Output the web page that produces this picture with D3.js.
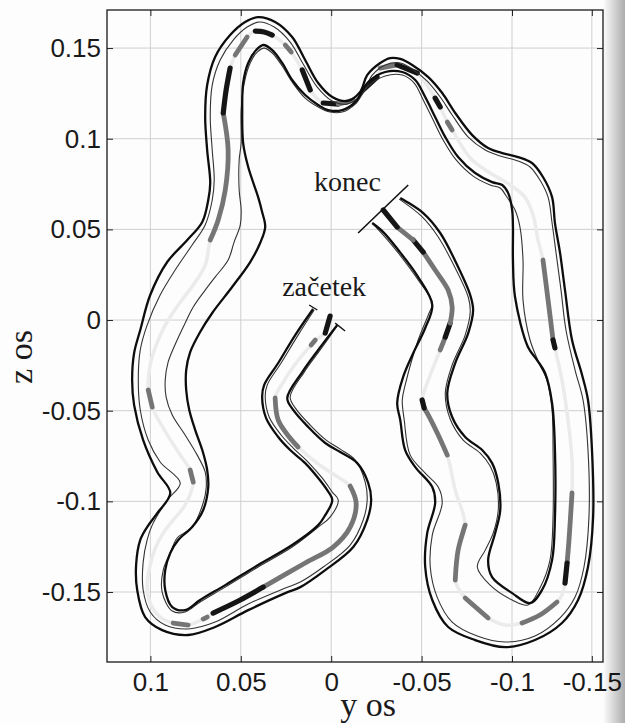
<!DOCTYPE html>
<html lang="cs">
<head>
<meta charset="UTF-8">
<title>Trubice trajektorie</title>
<script src="https://d3js.org/d3.v7.min.js"></script>
<style>
  body { margin: 0; background: #fff; }
  svg { display: block; }
  .tick text { font-family: "Liberation Sans", Arial, sans-serif; font-size: 26px; fill: #1a1a1a; }
  .serif { font-family: "Liberation Serif", "Times New Roman", serif; fill: #1a1a1a; }
</style>
</head>
<body>
<svg width="625" height="723"></svg>
<script>
// osy
const yTicks = [0.1, 0.05, 0, -0.05, -0.1, -0.15];
const zTicks = [0.15, 0.1, 0.05, 0, -0.05, -0.1, -0.15];

// stred trubice [y, z] a odstin usecky (0 svetla, 1 seda, 2 cerna)
const centerPath = [
  [0.0006,0.0022],[0.0033,-0.0072],[0.0088,-0.0110],[0.0111,-0.0138],[0.0194,-0.0237],[0.0265,-0.0342],
  [0.0310,-0.0430],[0.0293,-0.0552],[0.0232,-0.0645],[0.0183,-0.0700],[0.0072,-0.0794],[-0.0028,-0.0860],
  [-0.0105,-0.0916],[-0.0138,-0.1009],[-0.0105,-0.1142],[-0.0011,-0.1252],[0.0144,-0.1340],[0.0376,-0.1473],
  [0.0503,-0.1544],[0.0653,-0.1616],[0.0686,-0.1638],[0.0708,-0.1649],[0.0791,-0.1682],[0.0874,-0.1671],
  [0.0946,-0.1638],[0.1001,-0.1561],[0.1018,-0.1462],[0.1001,-0.1351],[0.0973,-0.1258],[0.0929,-0.1175],
  [0.0874,-0.1103],[0.0808,-0.1020],[0.0763,-0.0894],[0.0780,-0.0827],[0.0846,-0.0728],[0.0929,-0.0596],
  [0.0990,-0.0480],[0.1012,-0.0386],[0.1001,-0.0248],[0.0968,-0.0138],[0.0918,-0.0028],[0.0846,0.0083],
  [0.0763,0.0193],[0.0697,0.0303],[0.0669,0.0441],[0.0625,0.0552],[0.0586,0.0717],[0.0570,0.0938],
  [0.0597,0.1142],[0.0581,0.1269],[0.0559,0.1390],[0.0531,0.1462],[0.0465,0.1561],[0.0420,0.1594],
  [0.0371,0.1589],[0.0326,0.1572],[0.0254,0.1517],[0.0221,0.1478],[0.0160,0.1379],[0.0116,0.1269],
  [0.0044,0.1197],[-0.0039,0.1191],[-0.0122,0.1213],[-0.0177,0.1269],[-0.0254,0.1340],[-0.0271,0.1390],
  [-0.0365,0.1407],[-0.0476,0.1362],[-0.0575,0.1224],[-0.0603,0.1175],[-0.0642,0.1092],[-0.0669,0.1048],
  [-0.0769,0.0894],[-0.0879,0.0811],[-0.0990,0.0745],[-0.1081,0.0678],[-0.1132,0.0579],[-0.1163,0.0441],
  [-0.1194,0.0331],[-0.1226,0.0110],[-0.1257,-0.0110],[-0.1269,-0.0154],[-0.1313,-0.0331],[-0.1351,-0.0552],
  [-0.1376,-0.0772],[-0.1376,-0.0954],[-0.1357,-0.1213],[-0.1345,-0.1340],[-0.1332,-0.1451],[-0.1313,-0.1517],
  [-0.1282,-0.1555],[-0.1175,-0.1627],[-0.1063,-0.1671],[-0.0962,-0.1682],[-0.0868,-0.1643],[-0.0741,-0.1533],
  [-0.0702,-0.1478],[-0.0686,-0.1434],[-0.0702,-0.1269],[-0.0741,-0.1131],[-0.0686,-0.0938],[-0.0642,-0.0745],
  [-0.0592,-0.0634],[-0.0537,-0.0524],[-0.0514,-0.0485],[-0.0503,-0.0441],[-0.0548,-0.0303],[-0.0603,-0.0165],
  [-0.0631,-0.0094],[-0.0658,-0.0017],[-0.0669,0.0072],[-0.0647,0.0165],[-0.0575,0.0276],[-0.0509,0.0375],
  [-0.0454,0.0441],[-0.0365,0.0513],[-0.0288,0.0607]
];
const centerShade = [
  2,0,1,0,0,0, 1,1,1,0,0,0, 1,1,1,1,1,2, 2,0,1,0,1,0, 0,0,0,0,0,0,
  0,0,1,0,0,0, 1,0,0,0,0,0, 0,0,1,1,1,1, 2,2,0,1,0,2, 2,0,1,0,2,0,
  2,1,0,2,0,1, 2,0,2,0,1,0, 0,0,0,0,0,0, 1,1,2,0,0,0, 0,1,1,2,0,0,
  1,1,0,0,1,0, 0,1,1,0,0,1, 1,1,2,0,0,1, 2,1,1,1,1,2, 1,2,2
];

// vnejsi hranice (silne)
const outerQ = [
  [-0.0033,-0.0028],[0.0072,-0.0165],[0.0160,-0.0287],[0.0243,-0.0430],[0.0210,-0.0496],[0.0127,-0.0590],
  [0.0033,-0.0678],[-0.0050,-0.0728],[-0.0144,-0.0789],[-0.0205,-0.0899],[-0.0221,-0.0993],[-0.0199,-0.1103],
  [-0.0122,-0.1252],[0.0033,-0.1379],[0.0171,-0.1473],[0.0254,-0.1506],[0.0459,-0.1600],[0.0642,-0.1693],
  [0.0791,-0.1737],[0.0935,-0.1710],[0.1029,-0.1638],[0.1073,-0.1489],[0.1079,-0.1351],[0.1056,-0.1213],
  [0.1018,-0.1142],[0.0962,-0.1065],[0.0890,-0.0954],[0.0962,-0.0838],[0.1040,-0.0662],[0.1090,-0.0469],
  [0.1101,-0.0331],[0.1090,-0.0182],[0.1056,-0.0055],[0.1001,0.0138],[0.0907,0.0320],[0.0796,0.0441],
  [0.0713,0.0541],[0.0680,0.0662],[0.0669,0.0756],[0.0686,0.0938],[0.0697,0.1120],[0.0686,0.1296],
  [0.0642,0.1451],[0.0559,0.1572],[0.0476,0.1644],[0.0404,0.1671],[0.0310,0.1644],[0.0216,0.1561],
  [0.0144,0.1434],[0.0072,0.1307],[-0.0006,0.1230],[-0.0088,0.1208],[-0.0160,0.1258],[-0.0199,0.1351],
  [-0.0271,0.1418],[-0.0326,0.1445],[-0.0382,0.1440],[-0.0448,0.1407],[-0.0537,0.1340],[-0.0614,0.1252],
  [-0.0686,0.1142],[-0.0780,0.1020],[-0.0868,0.0949],[-0.0946,0.0921],[-0.1038,0.0899],[-0.1125,0.0866],
  [-0.1194,0.0789],[-0.1251,0.0678],[-0.1269,0.0535],[-0.1301,0.0370],[-0.1332,0.0165],[-0.1376,-0.0110],
  [-0.1439,-0.0303],[-0.1476,-0.0441],[-0.1501,-0.0717],[-0.1508,-0.1087],[-0.1476,-0.1362],[-0.1414,-0.1544],
  [-0.1313,-0.1671],[-0.1144,-0.1765],[-0.0962,-0.1804],[-0.0796,-0.1765],[-0.0647,-0.1693],[-0.0559,-0.1544],
  [-0.0520,-0.1362],[-0.0531,-0.1175],[-0.0575,-0.1009],[-0.0559,-0.0921],[-0.0465,-0.0811],[-0.0409,-0.0717],
  [-0.0382,-0.0552],[-0.0365,-0.0458],[-0.0398,-0.0314],[-0.0454,-0.0182],[-0.0520,-0.0044],[-0.0559,0.0083],
  [-0.0481,0.0237],[-0.0371,0.0386],[-0.0288,0.0485],[-0.0227,0.0535]
];
const outerP = [
  [0.0100,0.0061],[0.0199,-0.0083],[0.0293,-0.0237],[0.0371,-0.0359],[0.0382,-0.0425],[0.0360,-0.0541],
  [0.0293,-0.0645],[0.0227,-0.0717],[0.0144,-0.0789],[0.0072,-0.0871],[0.0022,-0.0938],[-0.0006,-0.0993],
  [0.0033,-0.1076],[0.0072,-0.1131],[0.0216,-0.1241],[0.0404,-0.1351],[0.0586,-0.1462],[0.0725,-0.1544],
  [0.0808,-0.1600],[0.0879,-0.1583],[0.0918,-0.1489],[0.0918,-0.1379],[0.0890,-0.1285],[0.0846,-0.1213],
  [0.0769,-0.1142],[0.0708,-0.1048],[0.0680,-0.0921],[0.0686,-0.0827],[0.0713,-0.0717],[0.0752,-0.0607],
  [0.0785,-0.0496],[0.0802,-0.0386],[0.0802,-0.0276],[0.0780,-0.0177],[0.0725,-0.0066],[0.0658,0.0039],
  [0.0548,0.0182],[0.0448,0.0320],[0.0393,0.0425],[0.0365,0.0513],[0.0382,0.0596],[0.0404,0.0678],
  [0.0459,0.0844],[0.0487,0.0976],[0.0492,0.1158],[0.0487,0.1307],[0.0459,0.1418],[0.0415,0.1489],
  [0.0376,0.1517],[0.0326,0.1489],[0.0271,0.1418],[0.0216,0.1324],[0.0144,0.1241],[0.0072,0.1186],
  [0.0017,0.1158],[-0.0061,0.1158],[-0.0133,0.1202],[-0.0205,0.1313],[-0.0299,0.1368],[-0.0393,0.1368],
  [-0.0465,0.1324],[-0.0520,0.1230],[-0.0575,0.1120],[-0.0631,0.1009],[-0.0702,0.0899],[-0.0796,0.0811],
  [-0.0890,0.0761],[-0.0946,0.0745],[-0.0979,0.0700],[-0.1001,0.0607],[-0.1006,0.0513],[-0.1006,0.0331],
  [-0.1019,0.0127],[-0.1100,-0.0149],[-0.1157,-0.0221],[-0.1207,-0.0292],[-0.1251,-0.0458],[-0.1269,-0.0717],
  [-0.1269,-0.1087],[-0.1251,-0.1324],[-0.1188,-0.1489],[-0.1113,-0.1561],[-0.1001,-0.1506],[-0.0890,-0.1418],
  [-0.0868,-0.1324],[-0.0907,-0.1175],[-0.0935,-0.1048],[-0.0924,-0.0899],[-0.0890,-0.0789],[-0.0835,-0.0717],
  [-0.0741,-0.0645],[-0.0669,-0.0535],[-0.0642,-0.0403],[-0.0686,-0.0237],[-0.0758,-0.0072],[-0.0785,0.0055],
  [-0.0769,0.0138],[-0.0697,0.0303],[-0.0603,0.0480],[-0.0509,0.0590],[-0.0382,0.0673]
];

// vnitrni hranice (tenke)
const innerQ = [
  [-0.0033,-0.0033],[0.0061,-0.0165],[0.0149,-0.0287],[0.0227,-0.0425],[0.0194,-0.0491],[0.0116,-0.0579],
  [0.0028,-0.0662],[-0.0050,-0.0712],[-0.0133,-0.0772],[-0.0188,-0.0894],[-0.0199,-0.0993],[-0.0177,-0.1103],
  [-0.0105,-0.1241],[0.0044,-0.1362],[0.0171,-0.1445],[0.0254,-0.1478],[0.0459,-0.1566],[0.0642,-0.1666],
  [0.0791,-0.1704],[0.0918,-0.1682],[0.1001,-0.1610],[0.1040,-0.1489],[0.1040,-0.1335],[0.1018,-0.1213],
  [0.0990,-0.1131],[0.0907,-0.0993],[0.0835,-0.0899],[0.0946,-0.0783],[0.1012,-0.0662],[0.1056,-0.0496],
  [0.1067,-0.0331],[0.1056,-0.0165],[0.1018,-0.0028],[0.0946,0.0138],[0.0863,0.0276],[0.0769,0.0414],
  [0.0697,0.0524],[0.0658,0.0662],[0.0647,0.0772],[0.0658,0.0938],[0.0669,0.1120],[0.0658,0.1296],
  [0.0614,0.1434],[0.0542,0.1544],[0.0465,0.1616],[0.0398,0.1644],[0.0315,0.1616],[0.0227,0.1533],
  [0.0155,0.1412],[0.0077,0.1285],[-0.0006,0.1208],[-0.0088,0.1191],[-0.0171,0.1247],[-0.0227,0.1351],
  [-0.0299,0.1407],[-0.0382,0.1418],[-0.0448,0.1384],[-0.0531,0.1318],[-0.0603,0.1230],[-0.0669,0.1131],
  [-0.0758,0.1009],[-0.0852,0.0938],[-0.0935,0.0905],[-0.1038,0.0877],[-0.1113,0.0844],[-0.1175,0.0772],
  [-0.1226,0.0678],[-0.1251,0.0535],[-0.1276,0.0370],[-0.1307,0.0165],[-0.1338,-0.0055],[-0.1395,-0.0276],
  [-0.1445,-0.0441],[-0.1476,-0.0717],[-0.1482,-0.1087],[-0.1451,-0.1362],[-0.1395,-0.1528],[-0.1301,-0.1643],
  [-0.1144,-0.1743],[-0.0962,-0.1776],[-0.0808,-0.1743],[-0.0669,-0.1666],[-0.0586,-0.1528],[-0.0548,-0.1362],
  [-0.0559,-0.1186],[-0.0614,-0.1009],[-0.0592,-0.0921],[-0.0520,-0.0844],[-0.0437,-0.0745],[-0.0404,-0.0552],
  [-0.0393,-0.0441],[-0.0409,-0.0359],[-0.0481,-0.0110],[-0.0537,0.0028],[-0.0559,0.0094],[-0.0481,0.0221],
  [-0.0371,0.0370],[-0.0293,0.0463],[-0.0227,0.0535]
];
const innerP = [
  [0.0094,0.0055],[0.0183,-0.0083],[0.0277,-0.0237],[0.0354,-0.0359],[0.0365,-0.0425],[0.0343,-0.0535],
  [0.0277,-0.0634],[0.0210,-0.0706],[0.0133,-0.0778],[0.0050,-0.0871],[-0.0006,-0.0949],[-0.0039,-0.0993],
  [0.0006,-0.1087],[0.0072,-0.1142],[0.0216,-0.1252],[0.0404,-0.1362],[0.0586,-0.1473],[0.0725,-0.1555],
  [0.0808,-0.1610],[0.0879,-0.1605],[0.0935,-0.1500],[0.0929,-0.1379],[0.0890,-0.1285],[0.0852,-0.1202],
  [0.0769,-0.1142],[0.0708,-0.1009],[0.0691,-0.0921],[0.0697,-0.0838],[0.0741,-0.0745],[0.0808,-0.0634],
  [0.0879,-0.0524],[0.0913,-0.0425],[0.0918,-0.0331],[0.0902,-0.0232],[0.0857,-0.0121],[0.0808,-0.0017],
  [0.0763,0.0072],[0.0697,0.0165],[0.0642,0.0237],[0.0570,0.0331],[0.0537,0.0430],[0.0503,0.0524],
  [0.0498,0.0607],[0.0509,0.0717],[0.0509,0.0883],[0.0498,0.0976],[0.0498,0.1158],[0.0481,0.1307],
  [0.0448,0.1418],[0.0409,0.1478],[0.0371,0.1500],[0.0326,0.1473],[0.0271,0.1401],[0.0216,0.1313],
  [0.0144,0.1224],[0.0072,0.1175],[0.0006,0.1147],[-0.0061,0.1147],[-0.0133,0.1191],[-0.0205,0.1291],
  [-0.0299,0.1346],[-0.0393,0.1351],[-0.0459,0.1307],[-0.0509,0.1213],[-0.0564,0.1103],[-0.0619,0.0993],
  [-0.0691,0.0883],[-0.0785,0.0794],[-0.0879,0.0745],[-0.0935,0.0728],[-0.0968,0.0684],[-0.1019,0.0607],
  [-0.1050,0.0513],[-0.1069,0.0331],[-0.1069,0.0110],[-0.1113,-0.0110],[-0.1175,-0.0248],[-0.1219,-0.0331],
  [-0.1251,-0.0496],[-0.1257,-0.0717],[-0.1257,-0.1087],[-0.1238,-0.1324],[-0.1175,-0.1478],[-0.1100,-0.1572],
  [-0.1001,-0.1544],[-0.0879,-0.1462],[-0.0808,-0.1362],[-0.0852,-0.1269],[-0.0896,-0.1175],[-0.0924,-0.1048],
  [-0.0913,-0.0899],[-0.0879,-0.0805],[-0.0824,-0.0734],[-0.0730,-0.0662],[-0.0658,-0.0546],[-0.0631,-0.0403],
  [-0.0669,-0.0248],[-0.0741,-0.0083],[-0.0769,0.0044],[-0.0758,0.0127],[-0.0686,0.0287],[-0.0592,0.0458],
  [-0.0498,0.0574],[-0.0376,0.0667]
];

// znacky konce a zacatku
const capEnd = [[-0.0149,0.0480],[-0.0426,0.0745]];
const capStart = [
  [[0.0122,0.0083],[0.0077,0.0055]],
  [[-0.0022,-0.0017],[-0.0077,-0.0061]]
];
const notes = [
  {text: "konec", y: -0.0090, z: 0.0712},
  {text: "začetek", y: 0.0039, z: 0.0132}
];

const svg = d3.select("svg");
const W = 625, H = 723;
const mLeft = 107, mRight = 603, mTop = 10, mBottom = 662;

svg.append("rect").attr("width", W).attr("height", H).attr("fill", "#fdfdfd");

const x = d3.scaleLinear().domain([0.124, -0.1, -0.157]).range([mLeft, 512, mRight]);
const z = d3.scaleLinear().domain([0.171, -0.1886]).range([mTop, mBottom]);

// mrizka
const grid = svg.append("g").attr("stroke", "#cfcfcf").attr("stroke-width", 1);
grid.selectAll(".gx").data(yTicks).enter().append("line")
  .attr("x1", d => x(d)).attr("x2", d => x(d)).attr("y1", mTop).attr("y2", mBottom);
grid.selectAll(".gz").data(zTicks).enter().append("line")
  .attr("y1", d => z(d)).attr("y2", d => z(d)).attr("x1", mLeft).attr("x2", mRight);

// osy
const fmt = d => String(d);
svg.append("g").attr("transform", `translate(0,${mBottom})`)
  .call(d3.axisBottom(x).tickValues(yTicks).tickFormat(fmt).tickSize(-6).tickSizeOuter(0).tickPadding(11))
  .call(g => g.select(".domain").remove());
svg.append("g").attr("transform", `translate(${mLeft},0)`)
  .call(d3.axisLeft(z).tickValues(zTicks).tickFormat(fmt).tickSize(-6).tickSizeOuter(0).tickPadding(6))
  .call(g => g.select(".domain").remove());
svg.append("g").attr("transform", `translate(0,${mTop})`)
  .call(d3.axisTop(x).tickValues(yTicks).tickFormat("").tickSize(-6).tickSizeOuter(0))
  .call(g => g.select(".domain").remove());
svg.append("g").attr("transform", `translate(${mRight},0)`)
  .call(d3.axisRight(z).tickValues(zTicks).tickFormat("").tickSize(-6).tickSizeOuter(0))
  .call(g => g.select(".domain").remove());
svg.selectAll(".tick line").attr("stroke", "#222");

svg.append("rect").attr("x", mLeft).attr("y", mTop)
  .attr("width", mRight - mLeft).attr("height", mBottom - mTop)
  .attr("fill", "none").attr("stroke", "#1a1a1a").attr("stroke-width", 1.3);

// kresba
svg.append("clipPath").attr("id", "plot").append("rect")
  .attr("x", mLeft).attr("y", mTop).attr("width", mRight - mLeft).attr("height", mBottom - mTop);
const plot = svg.append("g").attr("clip-path", "url(#plot)");

const line = d3.line().x(d => x(d[0])).y(d => z(d[1])).curve(d3.curveCatmullRom.alpha(0.5));
const straight = d3.line().x(d => x(d[0])).y(d => z(d[1]));

plot.append("path").attr("d", line(centerPath))
  .attr("fill", "none").attr("stroke", "#ebebeb").attr("stroke-width", 3.5);

// tmave useky stredu
const shadeColor = {1: "#757575", 2: "#151515"};
const shadeWidth = {1: 4.8, 2: 5.2};
let i = 0;
while (i < centerPath.length - 1) {
  const s = centerShade[i];
  let j = i;
  while (j < centerPath.length - 1 && centerShade[j] === s) j++;
  if (s > 0) {
    plot.append("path").attr("d", line(centerPath.slice(i, j + 1)))
      .attr("fill", "none").attr("stroke", shadeColor[s]).attr("stroke-width", shadeWidth[s])
      .attr("stroke-linecap", "round");
  }
  i = j;
}

[innerP, innerQ].forEach(b => plot.append("path").attr("d", line(b))
  .attr("fill", "none").attr("stroke", "#333").attr("stroke-width", 1.1));
[outerP, outerQ].forEach(b => plot.append("path").attr("d", line(b))
  .attr("fill", "none").attr("stroke", "#0d0d0d").attr("stroke-width", 2.3));

plot.append("path").attr("d", straight(capEnd))
  .attr("stroke", "#111").attr("stroke-width", 1.6);
capStart.forEach(c => plot.append("path").attr("d", straight(c))
  .attr("stroke", "#111").attr("stroke-width", 1.3));

// popisky
notes.forEach(n => svg.append("text").attr("class", "serif")
  .attr("x", x(n.y)).attr("y", z(n.z)).attr("text-anchor", "middle")
  .attr("font-size", 28).text(n.text));

svg.append("text").attr("class", "serif").attr("x", 368).attr("y", 716)
  .attr("text-anchor", "middle").attr("font-size", 34).text("y os");
svg.append("text").attr("class", "serif")
  .attr("transform", "translate(32,357) rotate(-90)")
  .attr("text-anchor", "middle").attr("font-size", 34).text("z os");

// stin skenu na pravem okraji
const grad = svg.append("defs").append("linearGradient").attr("id", "shade");
grad.append("stop").attr("offset", 0).attr("stop-color", "#000").attr("stop-opacity", 0);
grad.append("stop").attr("offset", 1).attr("stop-color", "#000").attr("stop-opacity", 0.32);
svg.append("rect").attr("x", 603).attr("y", 0).attr("width", 22).attr("height", H)
  .attr("fill", "url(#shade)");
</script>
</body>
</html>
